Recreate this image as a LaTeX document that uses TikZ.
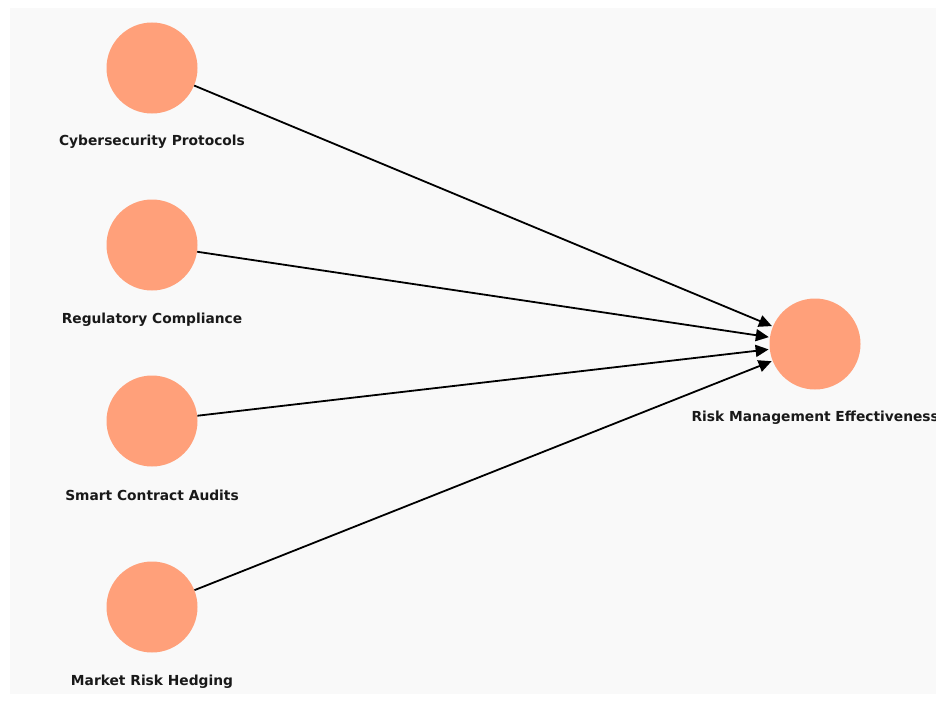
\documentclass[tikz,border=0pt]{standalone}
\usepackage{fontspec}
\setmainfont{DejaVu Sans}
\usetikzlibrary{arrows.meta}
\definecolor{bgc}{HTML}{F9F9F9}
\definecolor{nodec}{HTML}{FFA07A}
\begin{document}
\begin{tikzpicture}[x=1pt,y=-1pt,
  var/.style={circle,fill=nodec,minimum size=91pt,inner sep=0pt},
  lbl/.style={font=\bfseries\fontsize{13.8}{16}\selectfont,text=black!90,anchor=center},
  edge/.style={-{Triangle[length=13pt,width=12pt]},line width=1.8pt,shorten >=1pt}]
\useasboundingbox (0,0) rectangle (936,701);
\fill[bgc] (10,8) rectangle (936,694);
\node[var] (c) at (152,68) {};
\node[var] (r) at (152,245) {};
\node[var] (s) at (152,421) {};
\node[var] (m) at (152,607) {};
\node[var] (t) at (815,344) {};
\node[lbl] (cl) at (152,142) {Cybersecurity Protocols};
\node[lbl] (rl) at (152,319.5) {Regulatory Compliance};
\node[lbl] (sl) at (152,495) {Smart Contract Audits};
\node[lbl] (ml) at (152,681.5) {Market Risk Hedging};
\node[lbl,anchor=west] (tl) at (688,418) {Risk Management Effectiveness};
\draw[edge] (c) -- (t);
\draw[edge] (r) -- (t);
\draw[edge] (s) -- (t);
\draw[edge] (m) -- (t);
\end{tikzpicture}
\end{document}
